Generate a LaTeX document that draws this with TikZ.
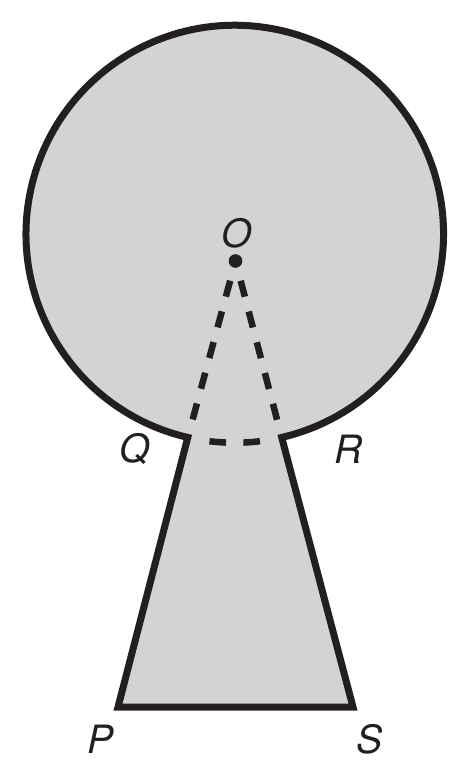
\documentclass[tikz,border=0pt]{standalone}
\usepackage{fontspec}
\setmainfont{TeX Gyre Heros}
\definecolor{shade}{RGB}{209,211,212}
\definecolor{ink}{RGB}{35,31,32}
\begin{document}
\begin{tikzpicture}[x=1pt,y=-1pt,
  outline/.style={draw=ink,line width=7pt,miter limit=10,line join=miter,fill=shade},
  dashline/.style={draw=ink,line width=6.5pt,line cap=butt},
  lbl/.style={inner sep=0pt,anchor=base,text=ink,font=\fontsize{39}{39}\selectfont\itshape}]
\useasboundingbox (0,0) rectangle (470,782);
\coordinate (C) at (234.75,234);
\coordinate (Q) at (187.8,437.4);
\coordinate (R) at (281.7,437.4);
\coordinate (P) at (118,707);
\coordinate (S) at (353,707);
\coordinate (O) at (235.5,261);
% outline shape
\path[outline] (Q) arc[start angle=103,end angle=437,radius=208.75] -- (S) -- (P) -- cycle;
% dashed arc
\draw[dashline,dash pattern=on 0pt off 22pt on 16.6pt off 17.4pt on 16.6pt off 40pt]
  (Q) arc[start angle=103,end angle=77,radius=208.75];
% dashed radii
\draw[dashline,dash pattern=on 0pt off 20.4pt on 16.5pt off 15.3pt on 16.5pt off 15.3pt on 16.5pt off 15.3pt on 16.5pt off 15.3pt on 16.5pt off 40pt] (O) -- (Q);
\draw[dashline,dash pattern=on 0pt off 20.4pt on 16.5pt off 15.3pt on 16.5pt off 15.3pt on 16.5pt off 15.3pt on 16.5pt off 15.3pt on 16.5pt off 40pt] (O) -- (R);
% centre dot
\fill[ink] (O) circle[radius=6.8];
% labels
\node[lbl] (lO) at (237,247.5) {O};
\node[lbl] (lQ) at (135,462) {Q};
\node[lbl] (lR) at (349,463) {R};
\node[lbl] (lP) at (101,753) {P};
\node[lbl] (lS) at (370,753) {S};
\end{tikzpicture}
\end{document}
